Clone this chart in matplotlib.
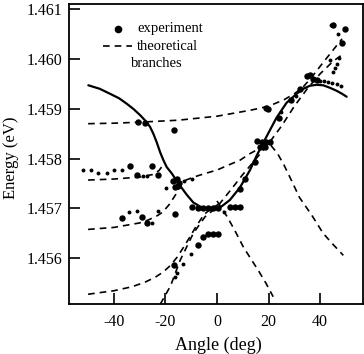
import matplotlib
matplotlib.use("Agg")
import matplotlib.pyplot as plt
from matplotlib.lines import Line2D

plt.rcParams['font.family'] = ['Liberation Serif', 'DejaVu Serif']

# ---- solid curve ----
solid_x = [-49.9, -45.5, -41.5, -38, -35, -32.3, -29.8, -27.8, -26, -24.7, -23.4, -22, -20.8, -19.5,
           -17.5, -15.6, -13.8, -11.8, -9.2, -6.6, -4.1, -1.4, 1.5, 5, 8.9, 12.8, 15.4, 19.3, 23.1,
           27, 30.9, 33.5, 36, 38.6, 41.2, 43.8, 46.4, 48.5, 50.3]
solid_y = [1.45947, 1.45940, 1.45930, 1.45921, 1.45910, 1.45899, 1.45887, 1.45876, 1.45864, 1.45850,
           1.45833, 1.45812, 1.45797, 1.45783, 1.45770, 1.45755, 1.45742, 1.45728, 1.45712, 1.45704,
           1.45698, 1.45697, 1.45703, 1.45717, 1.45742, 1.45777, 1.45806, 1.45845, 1.45882,
           1.45912, 1.45930, 1.45940, 1.45946, 1.45948, 1.45947, 1.45942, 1.45936, 1.45930, 1.45924]

# ---- theoretical branches (dashed) ----
t_x = [-50, -40, -30, -15, 0, 13, 20, 26, 30, 33.5, 37, 40, 44, 48.5]
t_y = [1.45870, 1.45871, 1.45873, 1.45877, 1.45885, 1.45897, 1.45905, 1.45918, 1.45930, 1.45944,
       1.45965, 1.45985, 1.46011, 1.46040]

bl_x = [-50, -40, -30, -25, -22.5, -20.5]
bl_y = [1.45757, 1.45759, 1.45763, 1.45768, 1.45776, 1.45790]

c_x = [-50, -40, -34.4, -30, -26.6, -23, -21, -18.5, -16, -14.3, -12, -9, -4.7, 0, 4.4, 9, 12.8, 16,
       19, 21, 23.5, 26, 29, 32, 36.7, 41.2, 45, 49]
c_y = [1.45658, 1.45662, 1.45667, 1.45671, 1.45677, 1.45686, 1.45693, 1.45708, 1.45728, 1.45748,
       1.45757, 1.45763, 1.45770, 1.45777, 1.45787, 1.45797, 1.45810, 1.45819, 1.45826, 1.45826,
       1.45810, 1.45787, 1.45755, 1.45722, 1.45687, 1.45650, 1.45628, 1.45606]

m_x = [0, 4, 7, 10.2, 13, 16, 19, 21.8]
m_y = [1.45715, 1.45683, 1.45655, 1.45623, 1.45600, 1.45576, 1.45550, 1.45523]

d_x = [-50, -40, -33, -28, -24, -21, -18.2, -15.5, -13, -10.5, -8, -5, -2, 0.5]
d_y = [1.45528, 1.45535, 1.45543, 1.45552, 1.45562, 1.45572, 1.45585, 1.45602, 1.45622, 1.45643,
       1.45665, 1.45688, 1.45701, 1.45708]

s_x = [-22, -18, -14.3, -9.2, -4.7, 0, 5, 10, 16, 20, 25, 30, 35, 40, 45, 49]
s_y = [1.45508, 1.45545, 1.45596, 1.45650, 1.45683, 1.45703, 1.45735, 1.45768, 1.45805, 1.45830,
       1.45865, 1.45905, 1.45940, 1.45970, 1.45995, 1.46010]

# ---- experimental points ----
big_x = [-30.5, -27.9, -16.5, -33.7, -25.1, -31.1, -23.0, -17.0, -15.6, -14.8, -16.2, -15.0,
         -36.9, -29.0, -27.0, -16.4, -9.8, -7.2, -5.3, -3.4, -1.4, 0.5, 5.0, 7.0, 8.9,
         -7.2, -5.3, -3.4, -1.4, 0.5, -16.7, 8.9, 10.9, 14.7, 15.6, 17.5, 19.2, 20.6, 16.5, 18.6,
         18.9, 19.8, 24.0, 28.9, 32.2, 34.8, 36.2, 37.3, 38.6, 45.1, 49.6, 48.3]
big_y = [1.45874, 1.45872, 1.45857, 1.45785, 1.45785, 1.45767, 1.45768, 1.45755, 1.45760, 1.45752,
         1.45744, 1.45745, 1.45681, 1.45682, 1.45671, 1.45688, 1.45703, 1.45700, 1.45700, 1.45700,
         1.45700, 1.45701, 1.45703, 1.45703, 1.45703, 1.45626, 1.45643, 1.45648, 1.45648, 1.45648,
         1.45586, 1.45740, 1.45760, 1.45793, 1.45835, 1.45833, 1.45833, 1.45833, 1.45823, 1.45823,
         1.45902, 1.45900, 1.45882, 1.45917, 1.45940, 1.45965, 1.45968, 1.45960, 1.45957, 1.46067,
         1.46059, 1.46031]

small_x = [-51.8, -48.8, -46.0, -42.7, -39.8, -36.9, -28.8, -27.3, -34.0, -31.1, -25.1, -22.8,
           -19.6, -12.8, -9.8, 2.7, -10.2, -13.1, -15.6, -16.3, 25.0, 30.5, 40.0, 41.6, 43.2,
           44.8, 46.4, 48.0, 45.0, 45.8, 46.6, 47.4, 43.8, 47.0, 44.2]
small_y = [1.45778, 1.45778, 1.45772, 1.45771, 1.45777, 1.45778, 1.45765, 1.45766, 1.45693, 1.45695,
           1.45670, 1.45695, 1.45742, 1.45755, 1.45760, 1.45693, 1.45608, 1.45588, 1.45570, 1.45563,
           1.45894, 1.45925, 1.45955, 1.45955, 1.45954, 1.45952, 1.45950, 1.45946, 1.45973, 1.45982,
           1.45990, 1.46001, 1.45997, 1.46050, 1.46068]

xticks = [-40, -20, 0, 20, 40]
yticks = [1.456, 1.457, 1.458, 1.459, 1.460, 1.461]

fig = plt.figure(figsize=(3.64, 3.54), dpi=100)
ax = fig.add_axes([0.1896, 0.1412, 0.8074, 0.8475])

dash = (0, (4, 3))
for xs, ys in [(t_x, t_y), (bl_x, bl_y), (c_x, c_y), (m_x, m_y), (d_x, d_y), (s_x, s_y)]:
    ax.plot(xs, ys, color='black', lw=1.2, linestyle=dash)

ax.plot(solid_x, solid_y, color='black', lw=1.6, solid_capstyle='round')

ax.plot(big_x, big_y, 'o', color='black', ms=4.6, mew=0)
ax.plot(small_x, small_y, 'o', color='black', ms=2.8, mew=0)

ax.set_xlim(-57.4, 56.6)
ax.set_ylim(1.455084, 1.4611)
ax.set_xticks(xticks)
ax.set_yticks(yticks)
ax.set_xticklabels([str(v) for v in xticks])
ax.set_yticklabels(['%.3f' % v for v in yticks])
ax.tick_params(direction='in', length=8, width=1.2, labelsize=11.5, pad=5)
ax.tick_params(axis='x', pad=7)
for s in ax.spines.values():
    s.set_linewidth(1.3)

ax.set_xlabel('Angle (deg)', fontsize=13)
ax.set_ylabel('Energy (eV)', fontsize=12)
ax.xaxis.set_label_coords(0.507, -0.108)
ax.yaxis.set_label_coords(-0.17, 0.487)

# legend drawn manually
ax.plot([0.167], [0.917], 'o', color='black', ms=5.5, mew=0, transform=ax.transAxes)
ax.text(0.231, 0.917, 'experiment', transform=ax.transAxes, fontsize=10.5, va='center', ha='left')
ax.add_line(Line2D([0.116, 0.214], [0.860, 0.860], color='black', lw=1.2, linestyle=(0, (4, 3)),
                   transform=ax.transAxes))
ax.text(0.231, 0.860, 'theoretical', transform=ax.transAxes, fontsize=10.5, va='center', ha='left')
ax.text(0.211, 0.803, 'branches', transform=ax.transAxes, fontsize=10.5, va='center', ha='left')

fig.savefig('out.png', dpi=100)
